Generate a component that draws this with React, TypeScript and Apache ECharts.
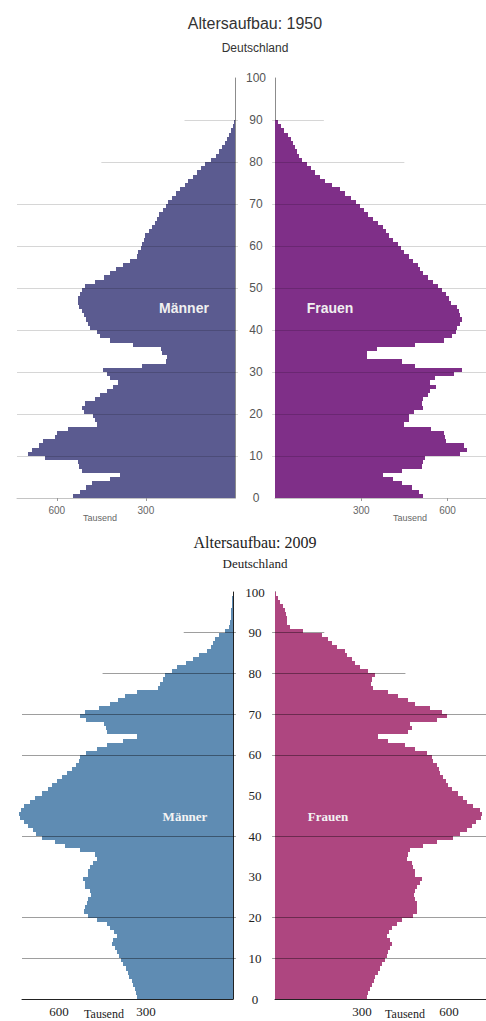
import { useEffect, useRef } from 'react';
import * as echarts from 'echarts';

const SANS = 'Liberation Sans, Arial, Helvetica, sans-serif';
const SERIF = 'Liberation Serif, Times New Roman, Times, serif';

// values in thousands, index = age in years (0..99)
const maenner1950 = [
  545, 522, 500, 480, 420, 387, 516, 525, 528, 640,
  696, 685, 660, 645, 606, 600, 561, 466, 470, 477,
  510, 516, 505, 470, 455, 432, 410, 393, 420, 432,
  444, 314, 232, 228, 245, 250, 342, 421, 455, 466,
  489, 495, 500, 510, 516, 525, 528, 530, 522, 515,
  505, 470, 440, 421, 400, 376, 355, 331, 325, 318,
  314, 305, 303, 290, 280, 270, 263, 255, 241, 232,
  225, 213, 200, 185, 170, 157, 143, 129, 115, 101,
  80, 65, 55, 45, 35, 28, 20, 12, 7, 3,
  0, 0, 0, 0, 0, 0, 0, 0, 0, 0,
];
const frauen1950 = [
  516, 500, 477, 443, 410, 376, 443, 511, 515, 522,
  645, 668, 657, 595, 592, 589, 544, 449, 466, 466,
  483, 516, 511, 516, 533, 540, 561, 539, 556, 623,
  651, 488, 443, 320, 320, 354, 488, 589, 617, 629,
  634, 645, 651, 645, 640, 634, 612, 606, 595, 580,
  567, 550, 533, 516, 505, 499, 480, 466, 450, 440,
  427, 412, 398, 385, 376, 360, 342, 325, 309, 295,
  281, 264, 245, 225, 200, 174, 155, 140, 125, 112,
  95, 85, 78, 70, 62, 55, 45, 32, 20, 10,
  0, 0, 0, 0, 0, 0, 0, 0, 0, 0,
];
const maenner2009 = [
  332, 335, 338, 346, 350, 358, 361, 369, 378, 385,
  392, 399, 407, 418, 413, 401, 412, 424, 436, 470,
  499, 514, 510, 505, 502, 491, 493, 510, 510, 516,
  502, 500, 495, 482, 470, 476, 528, 579, 614, 660,
  680, 689, 706, 722, 736, 740, 730, 722, 702, 683,
  660, 640, 625, 608, 590, 573, 556, 541, 530, 528,
  507, 470, 436, 378, 332, 436, 438, 445, 507, 528,
  510, 464, 424, 396, 372, 332, 258, 252, 240, 234,
  211, 194, 162, 137, 116, 91, 77, 68, 62, 50,
  28, 13, 10, 8, 8, 7, 4, 3, 2, 1,
];
const frauen2009 = [
  316, 322, 328, 333, 340, 345, 356, 362, 368, 379,
  385, 391, 397, 402, 397, 385, 393, 402, 420, 437,
  477, 491, 489, 489, 483, 479, 483, 489, 500, 506,
  483, 483, 477, 471, 456, 460, 466, 511, 560, 615,
  640, 661, 678, 695, 710, 713, 707, 684, 661, 650,
  630, 609, 598, 590, 580, 570, 566, 558, 546, 540,
  523, 483, 448, 391, 356, 460, 471, 466, 558, 592,
  575, 534, 483, 460, 425, 391, 337, 330, 333, 345,
  322, 293, 276, 264, 250, 241, 213, 195, 184, 161,
  98, 52, 40, 40, 38, 34, 26, 17, 11, 3,
];

const titles = ['Altersaufbau: 1950', 'Altersaufbau: 2009'];
const subtitle = 'Deutschland';
const sexLabels = ['Männer', 'Frauen'];
const unitLabel = 'Tausend';
const xTickValues = [300, 600];
const gridAges1950 = [10, 20, 30, 40, 50, 60, 70];
const gridAges2009 = [10, 20, 40, 60, 70];
const shortGridLines = [
  { age: 80, extent: 450 },
  { age: 90, extent: 170 },
];

function barSeries(values: number[], color: string, idx: number) {
  return {
    type: 'custom',
    xAxisIndex: idx,
    yAxisIndex: idx,
    silent: true,
    z: 2,
    encode: { x: 0, y: 1 },
    data: values.map((v, age) => [v, age]),
    renderItem: (_params: any, api: any) => {
      const v = api.value(0);
      const a = api.value(1);
      const p0 = api.coord([0, a]);
      const p1 = api.coord([v, a + 1]);
      const x0 = Math.round(Math.min(p0[0], p1[0]));
      const x1 = Math.round(Math.max(p0[0], p1[0]));
      const y0 = Math.round(Math.min(p0[1], p1[1]));
      const y1 = Math.round(Math.max(p0[1], p1[1]));
      return {
        type: 'rect',
        shape: { x: x0, y: y0, width: x1 - x0, height: y1 - y0 },
        style: { fill: color },
      };
    },
  };
}

function gridLines(idx: number, ages: number[], fullExtent: number, color: string) {
  return {
    type: 'lines',
    coordinateSystem: 'cartesian2d',
    xAxisIndex: idx,
    yAxisIndex: idx,
    silent: true,
    clip: false,
    z: 5,
    lineStyle: { color, width: 1, opacity: 1, type: 'solid' },
    data: [
      ...ages.map((a) => ({ coords: [[fullExtent, a], [-10, a]] })),
      ...shortGridLines.map((s) => ({ coords: [[s.extent, s.age], [-10, s.age]] })),
    ],
  };
}

export default function App() {
  const ref = useRef<HTMLDivElement>(null);

  useEffect(() => {
    document.body.style.margin = '0';
    if (!ref.current) return;
    const chart = echarts.init(ref.current, undefined, { renderer: 'svg' });

    const xAx = (grid: number, max: number, inverse: boolean, top: boolean) => ({
      gridIndex: grid,
      type: 'value',
      min: 0,
      max,
      inverse,
      interval: 300,
      axisLine: { show: true, onZero: false, lineStyle: { color: top ? '#c4c4c4' : '#222' } },
      axisTick: {
        show: top,
        customValues: xTickValues,
        length: 3,
        lineStyle: { color: '#999' },
      },
      axisLabel: {
        customValues: xTickValues,
        fontSize: top ? 10 : 13,
        color: top ? '#666' : '#222',
        fontFamily: top ? SANS : SERIF,
        margin: top ? 7 : 6,
      },
      splitLine: { show: false },
    });

    const yAx = (grid: number, position: string, showLabel: boolean, top: boolean) => ({
      gridIndex: grid,
      type: 'value',
      min: 0,
      max: 100,
      interval: 10,
      position,
      axisLine: { show: true, onZero: false, lineStyle: { color: top ? '#8c8c8c' : '#222' } },
      axisTick: { show: false },
      axisLabel: {
        show: showLabel,
        align: 'center',
        margin: top ? 21 : 22,
        fontSize: top ? 12 : 13,
        color: top ? '#555' : '#222',
        fontFamily: top ? SANS : SERIF,
      },
      splitLine: { show: false },
    });

    const txt = (text: string, x: number, y: number, size: number, family: string, fill: string, weight = 'normal') => ({
      type: 'text',
      x,
      y,
      silent: true,
      z: 10,
      style: {
        text,
        fontSize: size,
        fontFamily: family,
        fontWeight: weight,
        fill,
        align: 'center',
        verticalAlign: 'middle',
      },
    });

    chart.setOption({
      animation: false,
      backgroundColor: '#fff',
      graphic: [
        txt(titles[0], 255, 23, 16, SANS, '#333'),
        txt(subtitle, 255, 48, 12, SANS, '#333'),
        txt(titles[1], 255, 542, 16, SERIF, '#222'),
        txt(subtitle, 255, 563, 13, SERIF, '#222'),
        txt(sexLabels[0], 184, 308, 14, SANS, '#f0f0f0', 'bold'),
        txt(sexLabels[1], 330, 308, 14, SANS, '#f0f0f0', 'bold'),
        txt(unitLabel, 100, 518, 9, SANS, '#666'),
        txt(unitLabel, 410, 518, 9, SANS, '#666'),
        txt(sexLabels[0], 185, 816, 13, SERIF, '#f4f4f4', 'bold'),
        txt(sexLabels[1], 328, 816, 13, SERIF, '#f4f4f4', 'bold'),
        txt(unitLabel, 104, 1014, 12, SERIF, '#222'),
        txt(unitLabel, 405, 1014, 12, SERIF, '#222'),
      ],
      grid: [
        { left: 17, top: 78, width: 218, height: 420 },
        { left: 275, top: 78, width: 218, height: 420 },
        { left: 22, top: 592, width: 211, height: 407 },
        { left: 275, top: 592, width: 211, height: 407 },
      ],
      xAxis: [
        xAx(0, 734, true, true),
        xAx(1, 734, false, true),
        xAx(2, 728, true, false),
        xAx(3, 728, false, false),
      ],
      yAxis: [
        yAx(0, 'right', true, true),
        yAx(1, 'left', false, true),
        yAx(2, 'right', true, false),
        yAx(3, 'left', false, false),
      ],
      series: [
        barSeries(maenner1950, '#5b5b90', 0),
        barSeries(frauen1950, '#7f2f88', 1),
        barSeries(maenner2009, '#5f8cb3', 2),
        barSeries(frauen2009, '#ae4680', 3),
        gridLines(0, gridAges1950, 734, 'rgba(0,0,0,0.16)'),
        gridLines(1, gridAges1950, 760, 'rgba(0,0,0,0.16)'),
        gridLines(2, gridAges2009, 728, 'rgba(0,0,0,0.38)'),
        gridLines(3, gridAges2009, 760, 'rgba(0,0,0,0.38)'),
      ],
    });

    return () => chart.dispose();
  }, []);

  return <div ref={ref} style={{ width: 486, height: 1021 }} />;
}
